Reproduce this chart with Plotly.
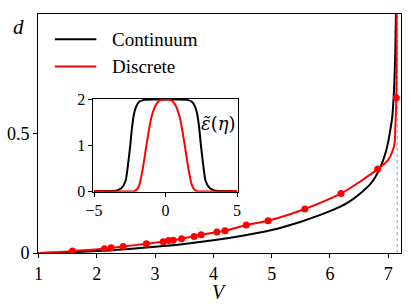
import plotly.graph_objects as go

# ---- main panel data ----
cont_V = [1.0, 1.5, 2.0, 2.5, 3.0, 3.5, 4.0, 4.5, 5.0, 5.5, 6.0, 6.3, 6.5, 6.7, 6.85, 6.95, 7.0, 7.04, 7.07, 7.1, 7.12, 7.135]
cont_d = [0.0, 0.003, 0.008, 0.016, 0.026, 0.038, 0.053, 0.072, 0.096, 0.131, 0.175, 0.21, 0.245, 0.29, 0.35, 0.415, 0.465, 0.52, 0.57, 0.68, 0.82, 1.02]

disc_pts_V = [1.58, 2.13, 2.245, 2.45, 2.85, 3.14, 3.23, 3.31, 3.455, 3.67, 3.79, 4.06, 4.2, 4.565, 4.94, 5.57, 6.19, 6.82, 7.14]
disc_pts_d = [0.008, 0.018, 0.022, 0.027, 0.039, 0.047, 0.052, 0.053, 0.060, 0.069, 0.076, 0.088, 0.093, 0.117, 0.135, 0.184, 0.249, 0.351, 0.65]

disc_line_V = [1.0, 1.3, 1.58, 2.13, 2.45, 2.85, 3.14, 3.455, 3.79, 4.2, 4.565, 4.94, 5.57, 6.19, 6.82, 7.0, 7.08, 7.11, 7.125, 7.14, 7.145]
disc_line_d = [0.0, 0.003, 0.008, 0.018, 0.027, 0.039, 0.047, 0.060, 0.076, 0.093, 0.117, 0.135, 0.184, 0.249, 0.351, 0.39, 0.43, 0.46, 0.54, 0.65, 1.05]

V_crit = 7.155

x_ticks = [1, 2, 3, 4, 5, 6, 7]
y_ticks = [0, 0.5]
y_ticklabels = ["0", "0.5"]

# ---- inset data ----
eta_cont = [-5.0, -3.8, -3.4, -3.1, -2.8, -2.62, -2.47, -2.35, -2.2, -2.05, -1.85, -1.5, -1.0, 0.0,
            1.0, 1.5, 1.85, 2.05, 2.2, 2.35, 2.47, 2.62, 2.8, 3.1, 3.4, 3.8, 5.0]
eps_cont = [0.0, 0.003, 0.015, 0.06, 0.22, 0.6, 1.0, 1.38, 1.7, 1.85, 1.95, 1.99, 2.0, 2.0,
            2.0, 1.99, 1.95, 1.85, 1.7, 1.38, 1.0, 0.6, 0.22, 0.06, 0.015, 0.003, 0.0]

eta_disc = [-5.0, -2.2, -2.0, -1.84, -1.6, -1.4, -1.2, -1.0, -0.8, -0.6, -0.35, 0.0,
            0.35, 0.6, 0.8, 1.0, 1.2, 1.4, 1.6, 1.84, 2.0, 2.2, 5.0]
eps_disc = [0.0, 0.0, 0.04, 0.13, 0.48, 0.88, 1.27, 1.6, 1.8, 1.92, 1.99, 2.0,
            1.99, 1.92, 1.8, 1.6, 1.27, 0.88, 0.48, 0.13, 0.04, 0.0, 0.0]

inset_x_ticks = [-5, 0, 5]
inset_x_ticklabels = ["\u22125", "0", "5"]
inset_y_ticks = [0, 1, 2]

FONT = "Liberation Serif"
BLACK = "black"
RED = "#ff0000"

W, H = 411, 307
PLOT_L, PLOT_R, PLOT_T, PLOT_B = 36, 403, 7, 253


def px(xp):
    return (xp - PLOT_L) / (PLOT_R - PLOT_L)


def py(yp):
    return (PLOT_B - yp) / (PLOT_B - PLOT_T)


fig = go.Figure()

fig.add_trace(go.Scatter(x=[V_crit, V_crit], y=[0, 1.0], mode="lines",
                         line=dict(color="#999999", width=1, dash="dot"),
                         xaxis="x", yaxis="y", showlegend=False, hoverinfo="skip"))
fig.add_trace(go.Scatter(x=cont_V, y=cont_d, mode="lines", name="Continuum",
                         line=dict(color=BLACK, width=2, shape="spline", smoothing=0.8),
                         xaxis="x", yaxis="y", showlegend=False))
fig.add_trace(go.Scatter(x=disc_line_V, y=disc_line_d, mode="lines", name="Discrete",
                         line=dict(color=RED, width=2, shape="spline", smoothing=0.8),
                         xaxis="x", yaxis="y", showlegend=False))
fig.add_trace(go.Scatter(x=disc_pts_V, y=disc_pts_d, mode="markers",
                         marker=dict(color=RED, size=7),
                         xaxis="x", yaxis="y", showlegend=False))

fig.add_trace(go.Scatter(x=eta_cont, y=eps_cont, mode="lines",
                         line=dict(color=BLACK, width=2, shape="spline", smoothing=0.6),
                         xaxis="x2", yaxis="y2", showlegend=False))
fig.add_trace(go.Scatter(x=eta_disc, y=eps_disc, mode="lines",
                         line=dict(color=RED, width=2, shape="spline", smoothing=0.6),
                         xaxis="x2", yaxis="y2", showlegend=False))

axis_common = dict(showgrid=False, zeroline=False, showline=True, linecolor=BLACK, linewidth=1,
                   mirror=True, ticks="outside", ticklen=4, tickwidth=1, tickcolor=BLACK)

fig.update_layout(
    width=W, height=H,
    margin=dict(l=PLOT_L, r=W - PLOT_R, t=PLOT_T, b=H - PLOT_B),
    paper_bgcolor="white", plot_bgcolor="white",
    font=dict(family=FONT, color=BLACK, size=18),
    xaxis=dict(domain=[0, 1], range=[0.99, 7.22], tickvals=x_ticks,
               tickfont=dict(size=18, family=FONT), anchor="y", **axis_common),
    yaxis=dict(domain=[0, 1], range=[0, 1.0], tickvals=y_ticks, ticktext=y_ticklabels,
               tickfont=dict(size=18, family=FONT), anchor="x", **axis_common),
    xaxis2=dict(domain=[px(92), px(238)], range=[-5.05, 5.05], tickvals=inset_x_ticks,
                ticktext=inset_x_ticklabels, tickfont=dict(size=16, family=FONT),
                anchor="y2", **axis_common),
    yaxis2=dict(domain=[py(190), py(94)], range=[-0.015, 2.02], tickvals=inset_y_ticks,
                tickfont=dict(size=16, family=FONT), anchor="x2", **axis_common),
)

# manual legend
legend_items = [("Continuum", BLACK, 33), ("Discrete", RED, 61)]
for label, col, yp in legend_items:
    fig.add_shape(type="line", xref="paper", yref="paper", x0=px(53), x1=px(95), y0=py(yp), y1=py(yp),
                  line=dict(color=col, width=2))
    fig.add_annotation(text=label, xref="paper", yref="paper", x=px(109), y=py(yp),
                       xanchor="left", yanchor="middle", showarrow=False,
                       font=dict(size=19, family=FONT, color=BLACK))

fig.add_annotation(text="<i>d</i>", xref="paper", yref="paper", x=px(16), y=py(20),
                   xanchor="center", yanchor="middle", showarrow=False,
                   font=dict(size=21, family=FONT))
fig.add_annotation(text="<i>V</i>", xref="paper", yref="paper", x=px(220), y=py(293),
                   xanchor="center", yanchor="middle", showarrow=False,
                   font=dict(size=20, family=FONT))
fig.add_annotation(text="<i>\u03b5\u0303</i>(<i>\u03b7</i>)", xref="paper", yref="paper",
                   x=px(218), y=py(120),
                   xanchor="center", yanchor="middle", showarrow=False,
                   font=dict(size=18, family="DejaVu Serif"))

post = ("var gd=document.getElementById('{plot_id}');"
        "document.body.style.margin='0px';"
        "gd.style.position='absolute';gd.style.left='0px';gd.style.top='0px';")
fig.write_html("out.html", post_script=post, config={"displayModeBar": False})
